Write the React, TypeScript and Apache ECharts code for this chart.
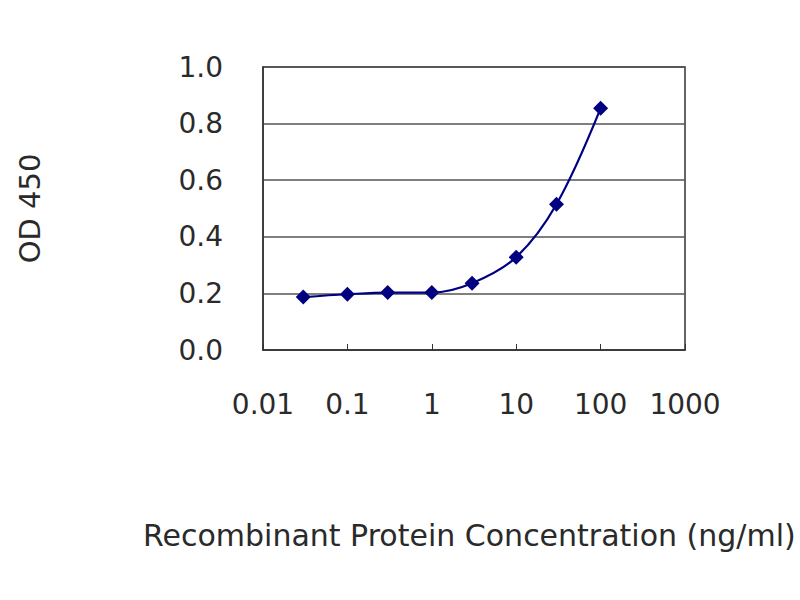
import React, { useEffect, useRef } from "react";
import * as echarts from "echarts";

const concentrations = [0.03, 0.1, 0.3, 1, 3, 10, 30, 100];
const odValues = [0.187, 0.197, 0.203, 0.203, 0.236, 0.328, 0.515, 0.854];
const yTicks = [0, 0.2, 0.4, 0.6, 0.8, 1.0];
const xTickLabels = ["0.01", "0.1", "1", "10", "100", "1000"];
const yTitle = "OD 450";
const xTitle = "Recombinant Protein Concentration (ng/ml)";

const FONT = "'DejaVu Sans', sans-serif";

export default function App() {
  const ref = useRef<HTMLDivElement>(null);
  useEffect(() => {
    if (!ref.current) return;
    const chart = echarts.init(ref.current, undefined, { renderer: "svg" });
    chart.setOption({
      animation: false,
      backgroundColor: "#ffffff",
      grid: {
        left: 263,
        right: 115,
        top: 67,
        bottom: 250,
        show: true,
        borderColor: "#333333",
        borderWidth: 1.5,
      },
      xAxis: {
        type: "log",
        logBase: 10,
        min: 0.01,
        max: 1000,
        axisLine: { show: true, lineStyle: { color: "#333", width: 1.5 } },
        axisTick: { show: true, inside: true, length: 6, lineStyle: { color: "#333" } },
        minorTick: { show: false },
        splitLine: { show: false },
        axisLabel: {
          margin: 40,
          fontSize: 28,
          fontFamily: FONT,
          color: "#2a2a2a",
          formatter: (v: number) => {
            const i = Math.round(Math.log10(v)) + 2;
            return xTickLabels[i] ?? String(v);
          },
        },
      },
      yAxis: {
        type: "value",
        min: yTicks[0],
        max: yTicks[yTicks.length - 1],
        interval: 0.2,
        name: yTitle,
        nameLocation: "middle",
        nameRotate: 90,
        nameGap: 233,
        nameTextStyle: { fontSize: 29, fontFamily: FONT, color: "#2a2a2a", verticalAlign: "middle" },
        axisLine: { show: true, lineStyle: { color: "#333", width: 1.5 } },
        axisTick: { show: false },
        splitLine: { show: true, lineStyle: { color: "#555555", width: 1.5 } },
        axisLabel: {
          margin: 40,
          fontSize: 28,
          fontFamily: FONT,
          color: "#2a2a2a",
          formatter: (v: number) => v.toFixed(1),
        },
      },
      title: {
        text: xTitle,
        left: 138,
        top: 515,
        textStyle: { fontSize: 30, fontWeight: "normal", fontFamily: FONT, color: "#2a2a2a" },
      },
      series: [
        {
          type: "line",
          data: concentrations.map((c, i) => [c, odValues[i]]),
          smooth: 0.35,
          symbol: "diamond",
          symbolSize: 15,
          lineStyle: { color: "#000080", width: 2.2 },
          itemStyle: { color: "#000080" },
        },
      ],
    });
    return () => chart.dispose();
  }, []);
  return <div ref={ref} style={{ width: 800, height: 600, position: "absolute", left: 0, top: 0 }} />;
}
